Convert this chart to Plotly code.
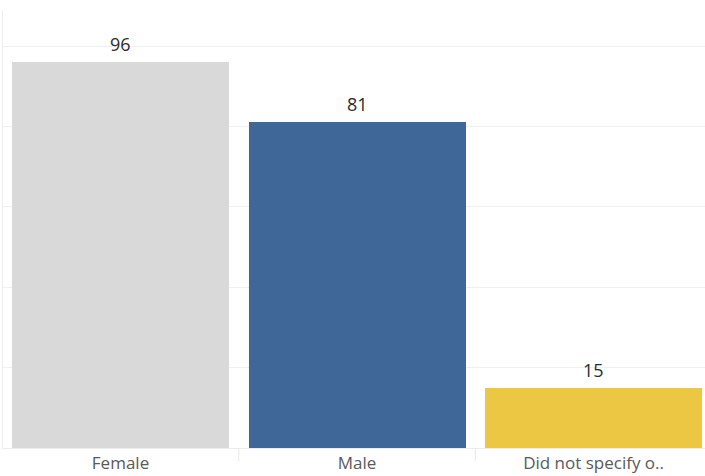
import plotly.graph_objects as go

categories = ["Female", "Male", "Did not specify o.."]
values = [96, 81, 15]
colors = ["#d9d9d9", "#3f6899", "#ebc744"]

fig = go.Figure()
fig.add_trace(go.Bar(
    x=categories, y=values, marker=dict(color=colors, line=dict(width=0)),
    width=0.9175, hoverinfo="skip",
))

for c, v in zip(categories, values):
    fig.add_annotation(x=c, y=v, text=str(v), showarrow=False, yanchor="bottom",
                       yshift=4, font=dict(family="Open Sans, DejaVu Sans", size=18, color="#2b2b2b"))

# header separators below axis
for xv in [0.5, 1.5]:
    fig.add_shape(type="line", xref="x", yref="paper", x0=xv, x1=xv, y0=0, y1=-0.03,
                  line=dict(color="#e8e8e8", width=1))

fig.update_layout(
    width=705, height=476,
    margin=dict(l=3, r=0, t=10, b=28, autoexpand=False),
    paper_bgcolor="white", plot_bgcolor="white",
    showlegend=False,
    bargap=0,
    xaxis=dict(range=[-0.4968, 2.471], showgrid=False, showline=True, linecolor="#ececec",
               tickfont=dict(family="Open Sans, DejaVu Sans", size=17, color="#5a5a5a"),
               ticks="", ticklabelstandoff=0, automargin=False, fixedrange=True),
    yaxis=dict(range=[0, 108.96], tickvals=[0, 20, 40, 60, 80, 100], showticklabels=False,
               showgrid=True, gridcolor="#f0f0f0", zeroline=False, showline=True,
               linecolor="#eeeeee", ticks="", automargin=False),
)

fig.write_html("out.html")
